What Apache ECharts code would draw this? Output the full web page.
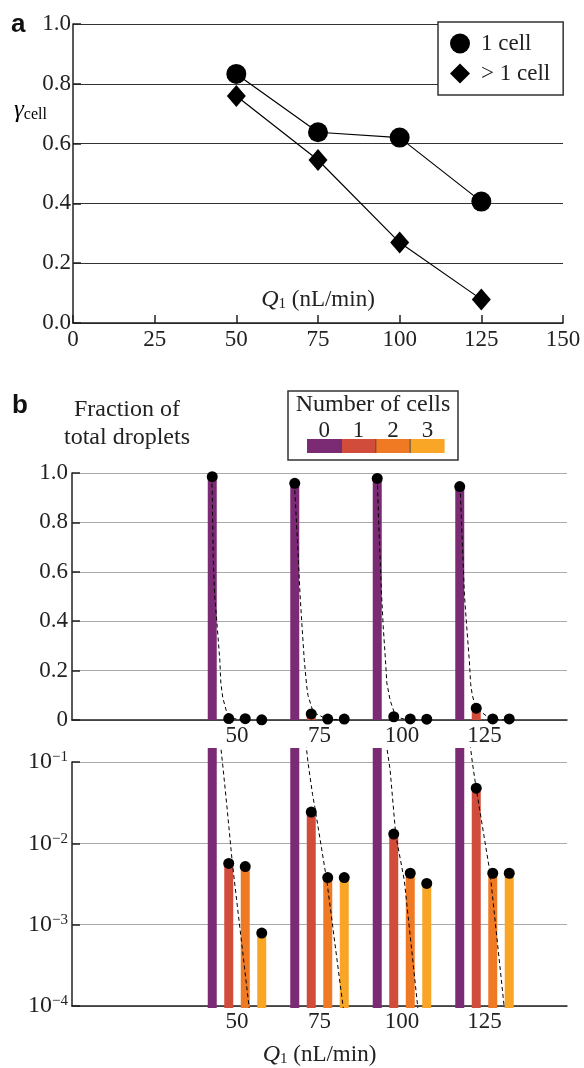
<!DOCTYPE html>
<html>
<head>
<meta charset="utf-8">
<script src="https://cdn.jsdelivr.net/npm/echarts@6/dist/echarts.min.js"></script>
<style>
  html, body { margin: 0; background: #fff; }
  #chart { width: 584px; height: 1068px; }
</style>
</head>
<body>
<div id="chart"></div>
<script>
// panel a: gamma_cell vs Q1
const flowA = [50, 75, 100, 125];
const oneCell = [0.833, 0.638, 0.620, 0.406];
const multiCell = [0.759, 0.545, 0.269, 0.079];

// panel b: fraction of droplets holding 0..3 cells
const flowB = [50, 75, 100, 125];
const cellCounts = ['0', '1', '2', '3'];
const frac0 = [0.985, 0.958, 0.978, 0.945];
const frac1 = [0.0058, 0.0245, 0.0132, 0.048];
const frac2 = [0.0053, 0.0039, 0.0044, 0.0044];
const frac3 = [0.00082, 0.0039, 0.0033, 0.0044];

// dashed fit curves as [Q, fraction]
const fit50 = [[42.3, 0.985], [42.5, 0.92], [42.8, 0.65], [43.2, 0.51], [44.0, 0.38], [44.8, 0.24],
  [45.1, 0.15], [45.7, 0.09], [46.9, 0.03], [48.6, 0.0058], [53.7, 0.0001]];
const fit75 = [[67.4, 0.958], [68.1, 0.78], [69.1, 0.51], [69.7, 0.38], [70.4, 0.24], [71.1, 0.14],
  [71.5, 0.1], [72.9, 0.04], [73.6, 0.028], [77.2, 0.0036], [82.2, 0.0001]];
const fit100 = [[92.5, 0.978], [93.0, 0.78], [93.8, 0.51], [94.3, 0.38], [95.0, 0.24], [95.4, 0.15],
  [96.4, 0.08], [98.1, 0.013], [100.7, 0.0036], [104.8, 0.0001]];
const fit125 = [[117.6, 0.945], [118.1, 0.78], [118.9, 0.51], [119.6, 0.38], [120.4, 0.24], [120.8, 0.147],
  [121.3, 0.1], [122.4, 0.05], [126.7, 0.0044], [131.0, 0.0001]];

const serif = '"Liberation Serif", "Times New Roman", serif';
const ink = '#222';
const cellColors = ['#7b2a74', '#d14c3b', '#f07a24', '#f9a526'];
const barOffsets = [-7.5, -2.5, 2.5, 7.5];
const fractions = [frac0, frac1, frac2, frac3];
const fits = [fit50, fit75, fit100, fit125];
const logTop = Math.pow(10, -4 + 260 / 82);

const pts = k => flowB.map((q, i) => [q + barOffsets[k], fractions[k][i]]);

const rich = {
  q: { fontFamily: serif, fontSize: 24, fontStyle: 'italic', color: ink },
  s: { fontFamily: serif, fontSize: 15, color: ink, verticalAlign: 'bottom' },
  t: { fontFamily: serif, fontSize: 23, color: ink }
};

function barItem(baseValue) {
  return function (params, api) {
    const top = api.coord([api.value(0), api.value(1)]);
    const base = api.coord([api.value(0), baseValue]);
    const cs = params.coordSys;
    const shape = echarts.graphic.clipRectByRect(
      { x: top[0] - 4.5, y: top[1], width: 9, height: base[1] - top[1] },
      { x: cs.x, y: cs.y, width: cs.width, height: cs.height });
    return shape && { type: 'rect', shape: shape, style: { fill: api.visual('color') } };
  };
}

const axisLine = { show: true, lineStyle: { color: ink, width: 1.5 } };
const tickIn = { show: true, inside: true, length: 8, lineStyle: { color: ink, width: 1.5 } };
const labelStyle = { color: ink, fontFamily: serif, fontSize: 23 };

const series = [
  {
    name: '1 cell', type: 'line', xAxisIndex: 0, yAxisIndex: 0,
    data: flowA.map((q, i) => [q, oneCell[i]]),
    symbol: 'circle', symbolSize: 20, itemStyle: { color: '#000' },
    lineStyle: { color: '#000', width: 1.2 }, z: 3
  },
  {
    name: '> 1 cell', type: 'line', xAxisIndex: 0, yAxisIndex: 0,
    data: flowA.map((q, i) => [q, multiCell[i]]),
    symbol: 'diamond', symbolSize: [19, 22], itemStyle: { color: '#000' },
    lineStyle: { color: '#000', width: 1.2 }, z: 3
  }
];

[[1, 0], [3, 1e-4]].forEach(([axis, base]) => {
  cellCounts.forEach((c, k) => series.push({
    type: 'custom', xAxisIndex: axis, yAxisIndex: axis, data: pts(k),
    itemStyle: { color: cellColors[k] }, renderItem: barItem(base), z: 2
  }));
  fits.forEach(f => series.push({
    type: 'line', xAxisIndex: axis, yAxisIndex: axis, data: f, symbol: 'none',
    lineStyle: { color: '#000', width: 1, type: [4, 3] }, z: 3
  }));
  series.push({
    type: 'scatter', xAxisIndex: axis, yAxisIndex: axis,
    data: cellCounts.flatMap((c, k) => pts(k)),
    symbolSize: 11, itemStyle: { color: '#000', opacity: 1 }, z: 4
  });
});

const legendB = [
  { type: 'rect', shape: { x: 288, y: 391, width: 170, height: 69 },
    style: { fill: '#fff', stroke: '#333', lineWidth: 1.5 } },
  { type: 'text', x: 373, y: 405,
    style: { text: 'Number of cells', font: '24px ' + serif, fill: ink, align: 'center', verticalAlign: 'middle' } }
];
cellCounts.forEach((c, k) => {
  legendB.push({ type: 'rect', shape: { x: 307 + k * 34.4, y: 439, width: 34.4, height: 14 },
    style: { fill: cellColors[k] } });
  legendB.push({ type: 'text', x: 307 + k * 34.4 + 17.2, y: 431,
    style: { text: c, font: '23px ' + serif, fill: ink, align: 'center', verticalAlign: 'middle' } });
  if (k > 0) legendB.push({ type: 'line', shape: { x1: 307 + k * 34.4, y1: 439, x2: 307 + k * 34.4, y2: 453 },
    style: { stroke: '#333', lineWidth: 0.8 } });
});

const chart = echarts.init(document.getElementById('chart'));
chart.setOption({
  animation: false,
  backgroundColor: '#fff',
  grid: [
    { left: 73, top: 24, width: 490, height: 299 },
    { left: 72, top: 473, width: 495, height: 247 },
    { left: 72, top: 762, width: 495, height: 246 },
    { left: 72, top: 748, width: 495, height: 260 }
  ],
  legend: {
    left: 438, top: 22, orient: 'vertical',
    backgroundColor: '#fff', borderColor: '#333', borderWidth: 1.5,
    padding: [10, 13, 10, 12], itemWidth: 20, itemHeight: 20, itemGap: 7,
    textStyle: { fontFamily: serif, fontSize: 23, lineHeight: 22, color: ink, padding: [0, 0, 0, 6] },
    data: [{ name: '1 cell', icon: 'circle' }, { name: '> 1 cell', icon: 'diamond' }]
  },
  xAxis: [
    {
      gridIndex: 0, type: 'value', min: 0, max: 150, interval: 25,
      axisLine: axisLine, axisTick: tickIn, splitLine: { show: false },
      axisLabel: Object.assign({ margin: 5 }, labelStyle),
      name: '{q|Q}{s|1}{t| (nL/min)}', nameLocation: 'middle', nameGap: -35,
      nameTextStyle: { rich: rich }
    },
    {
      gridIndex: 1, type: 'value', min: 0, max: 150, interval: 25,
      axisLine: axisLine, axisTick: { show: false }, splitLine: { show: false },
      axisLabel: Object.assign({ margin: 4, formatter: v => (v >= 50 && v <= 125 ? String(v) : '') }, labelStyle)
    },
    {
      gridIndex: 2, type: 'value', min: 0, max: 150, interval: 25,
      axisLine: axisLine, axisTick: { show: false }, splitLine: { show: false },
      axisLabel: Object.assign({ margin: 4, formatter: v => (v >= 50 && v <= 125 ? String(v) : '') }, labelStyle),
      name: '{q|Q}{s|1}{t| (nL/min)}', nameLocation: 'middle', nameGap: 37,
      nameTextStyle: { rich: rich }
    },
    { gridIndex: 3, type: 'value', min: 0, max: 150, show: false }
  ],
  yAxis: [
    {
      gridIndex: 0, type: 'value', min: 0, max: 1, interval: 0.2,
      axisLine: axisLine, axisTick: tickIn,
      axisLabel: Object.assign({ margin: 2, formatter: v => v.toFixed(1) }, labelStyle),
      splitLine: { show: true, lineStyle: { color: '#333', width: 1 } }
    },
    {
      gridIndex: 1, type: 'value', min: 0, max: 1, interval: 0.2,
      axisLine: axisLine, axisTick: tickIn,
      axisLabel: Object.assign({ margin: 4, formatter: v => (v === 0 ? '0' : v.toFixed(1)) }, labelStyle),
      splitLine: { show: true, lineStyle: { color: '#aaa', width: 1.2 } }
    },
    {
      gridIndex: 2, type: 'log', logBase: 10, min: 1e-4, max: 0.1,
      axisLine: axisLine, axisTick: tickIn,
      axisLabel: {
        margin: 4,
        formatter: v => '{b|10}{e|\u2212' + Math.round(-Math.log10(v)) + '}',
        rich: {
          b: { fontFamily: serif, fontSize: 24, color: ink },
          e: { fontFamily: serif, fontSize: 15, color: ink, verticalAlign: 'top' }
        }
      },
      splitLine: { show: true, lineStyle: { color: '#aaa', width: 1.2 } }
    },
    { gridIndex: 3, type: 'log', logBase: 10, min: 1e-4, max: logTop, show: false }
  ],
  graphic: [
    { type: 'text', x: 11, y: 25,
      style: { text: 'a', font: 'bold 26px "Liberation Sans", Arial, sans-serif', fill: '#111', verticalAlign: 'middle' } },
    { type: 'text', x: 12, y: 406,
      style: { text: 'b', font: 'bold 26px "Liberation Sans", Arial, sans-serif', fill: '#111', verticalAlign: 'middle' } },
    { type: 'text', x: 14, y: 110,
      style: {
        text: '{g|\u03b3}{c|cell}', verticalAlign: 'middle',
        rich: {
          g: { fontFamily: serif, fontSize: 25, fontStyle: 'italic', color: ink },
          c: { fontFamily: serif, fontSize: 16, color: ink, verticalAlign: 'bottom' }
        }
      } },
    { type: 'text', x: 127, y: 424,
      style: { text: 'Fraction of\ntotal droplets', font: '24px ' + serif, lineHeight: 28,
        fill: ink, align: 'center', verticalAlign: 'middle' } }
  ].concat(legendB),
  series: series
});
</script>
</body>
</html>
